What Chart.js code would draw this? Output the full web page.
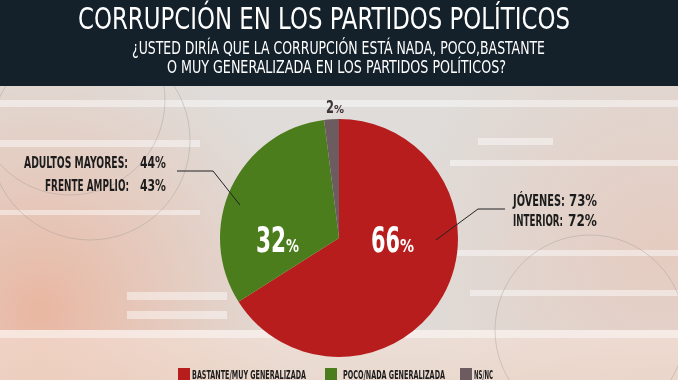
<!DOCTYPE html>
<html><head><meta charset="utf-8">
<script src="https://cdn.jsdelivr.net/npm/chart.js@4/dist/chart.umd.min.js"></script>
<style>html,body{margin:0;padding:0;background:#e2dfdc;overflow:hidden}#wrap{width:678px;height:380px;position:relative}</style>
</head><body><div id="wrap"><canvas id="c" width="678" height="380"></canvas></div>
<script>
const categories = ['BASTANTE/MUY GENERALIZADA', 'POCO/NADA GENERALIZADA', 'NS/NC'];
const values = [66, 32, 2];
const sliceColors = ['#b81d1e', '#4b7d1c', '#6c5c60'];
const titleText = 'CORRUPCIÓN EN LOS PARTIDOS POLÍTICOS';
const subtitleLines = ['¿USTED DIRÍA QUE LA CORRUPCIÓN ESTÁ NADA, POCO,BASTANTE', 'O MUY GENERALIZADA EN LOS PARTIDOS POLÍTICOS?'];
const leftNotes = [['ADULTOS MAYORES:', '44%'], ['FRENTE AMPLIO:', '43%']];
const rightNotes = [['JÓVENES:', '73%'], ['INTERIOR:', '72%']];

const FF = '"Liberation Sans Narrow","DejaVu Sans Condensed","Roboto",sans-serif';

function fitText(ctx, text, left, baseline, width) {
  const w = ctx.measureText(text).width;
  const s = width / w;
  ctx.save();
  ctx.translate(left, baseline);
  ctx.scale(s, 1);
  ctx.textAlign = 'left';
  ctx.textBaseline = 'alphabetic';
  ctx.fillText(text, 0, 0);
  ctx.restore();
}

const bgPlugin = {
  id: 'bg',
  beforeDraw(chart) {
    const ctx = chart.ctx, W = chart.width, H = chart.height;
    ctx.save();
    ctx.fillStyle = '#dfdcd9';
    ctx.fillRect(0, 0, W, H);
    let g = ctx.createRadialGradient(40, 310, 10, 40, 310, 280);
    g.addColorStop(0, 'rgba(238,165,135,0.65)');
    g.addColorStop(0.6, 'rgba(238,180,155,0.3)');
    g.addColorStop(1, 'rgba(238,190,170,0)');
    ctx.fillStyle = g; ctx.fillRect(0, 86, W, H - 86);
    g = ctx.createRadialGradient(660, 250, 10, 660, 250, 260);
    g.addColorStop(0, 'rgba(235,188,170,0.5)');
    g.addColorStop(1, 'rgba(235,190,170,0)');
    ctx.fillStyle = g; ctx.fillRect(0, 86, W, H - 86);
    g = ctx.createLinearGradient(0, 330, 0, 380);
    g.addColorStop(0, 'rgba(245,225,215,0.6)');
    g.addColorStop(1, 'rgba(240,215,200,0.6)');
    ctx.fillStyle = g; ctx.fillRect(0, 330, W, 50);
    // stripes
    ctx.fillStyle = 'rgba(255,255,255,0.45)';
    [[0,100,678,7],[0,140,200,7],[478,138,75,7],[0,330,678,8],[127,292,100,8],[127,311,100,8],[450,160,228,6],[430,250,248,6],[0,210,200,5],[470,290,208,6]].forEach(r => ctx.fillRect(r[0], r[1], r[2], r[3]));
    // decorative circles
    ctx.strokeStyle = 'rgba(150,145,140,0.35)';
    ctx.lineWidth = 1;
    ctx.beginPath(); ctx.arc(70, 100, 95, 0, Math.PI * 2); ctx.stroke();
    ctx.beginPath(); ctx.arc(90, 140, 100, 0, Math.PI * 2); ctx.stroke();
    ctx.beginPath(); ctx.arc(590, 330, 95, 0, Math.PI * 2); ctx.stroke();
    // header
    ctx.fillStyle = '#14202a';
    ctx.fillRect(0, 0, W, 86);
    ctx.fillStyle = '#ffffff';
    ctx.font = 'normal 30px ' + FF;
    fitText(ctx, titleText, 78, 29, 492);
    ctx.font = 'normal 17px ' + FF;
    fitText(ctx, subtitleLines[0], 132, 54, 413);
    fitText(ctx, subtitleLines[1], 167, 73, 339);
    ctx.restore();
  }
};

const legendLayout = [[178, 192, 114], [325, 343, 102], [460, 474, 19]];

const notePlugin = {
  id: 'notes',
  afterDraw(chart) {
    const ctx = chart.ctx;
    const arcs = chart.getDatasetMeta(0).data;
    const cx = arcs[0].x, cy = arcs[0].y, r = arcs[0].outerRadius;
    ctx.save();
    // leader lines
    ctx.strokeStyle = '#222';
    ctx.lineWidth = 1;
    ctx.beginPath();
    ctx.moveTo(177, 171); ctx.lineTo(213, 171); ctx.lineTo(cx - 0.832 * r, cy - 0.277 * r);
    ctx.stroke();
    ctx.beginPath();
    ctx.moveTo(505, 209); ctx.lineTo(478, 209); ctx.lineTo(cx + 0.815 * r, cy + 0.017 * r);
    ctx.stroke();
    // notes
    ctx.fillStyle = '#1c1c1c';
    ctx.font = 'bold 16px ' + FF;
    fitText(ctx, leftNotes[0][0], 24, 168, 104);
    fitText(ctx, leftNotes[0][1], 140, 168, 26);
    fitText(ctx, leftNotes[1][0], 45, 191, 84);
    fitText(ctx, leftNotes[1][1], 140, 191, 26);
    ctx.font = 'bold 15px ' + FF;
    fitText(ctx, rightNotes[0][0], 513, 206, 52);
    fitText(ctx, rightNotes[0][1], 569, 206, 28);
    fitText(ctx, rightNotes[1][0], 513, 226, 50);
    fitText(ctx, rightNotes[1][1], 568, 226, 29);
    // value labels
    ctx.fillStyle = '#ffffff';
    ctx.font = 'bold 36px ' + FF;
    fitText(ctx, String(values[0]), cx + 32, cy + 14, 29);
    fitText(ctx, String(values[1]), cx - 83, cy + 14, 30);
    ctx.font = 'bold 18px ' + FF;
    fitText(ctx, '%', cx + 61, cy + 14, 14);
    fitText(ctx, '%', cx - 53, cy + 14, 13);
    ctx.fillStyle = '#3e3436';
    ctx.font = 'bold 18px ' + FF;
    fitText(ctx, String(values[2]), cx - 13, cy - r - 6, 8);
    ctx.font = 'bold 11px ' + FF;
    fitText(ctx, '%', cx - 5, cy - r - 6, 10);
    // legend
    const bg = chart.data.datasets[0].backgroundColor;
    chart.data.labels.forEach((lab, i) => {
      const L = legendLayout[i];
      ctx.fillStyle = bg[i];
      ctx.fillRect(L[0], 368, 12, 12);
      ctx.fillStyle = '#1d1d1d';
      ctx.font = 'bold 13px ' + FF;
      fitText(ctx, lab, L[1], 379, L[2]);
    });
    ctx.restore();
  }
};

new Chart(document.getElementById('c').getContext('2d'), {
  type: 'pie',
  data: {
    labels: categories,
    datasets: [{ data: values, backgroundColor: sliceColors, borderWidth: 0, hoverOffset: 0, radius: 119 }]
  },
  options: {
    responsive: false,
    animation: false,
    layout: { padding: { top: 125, bottom: 29, left: 0, right: 0 } },
    plugins: {
      legend: { display: false },
      tooltip: { enabled: false }
    }
  },
  plugins: [bgPlugin, notePlugin]
});
</script>
</body></html>
